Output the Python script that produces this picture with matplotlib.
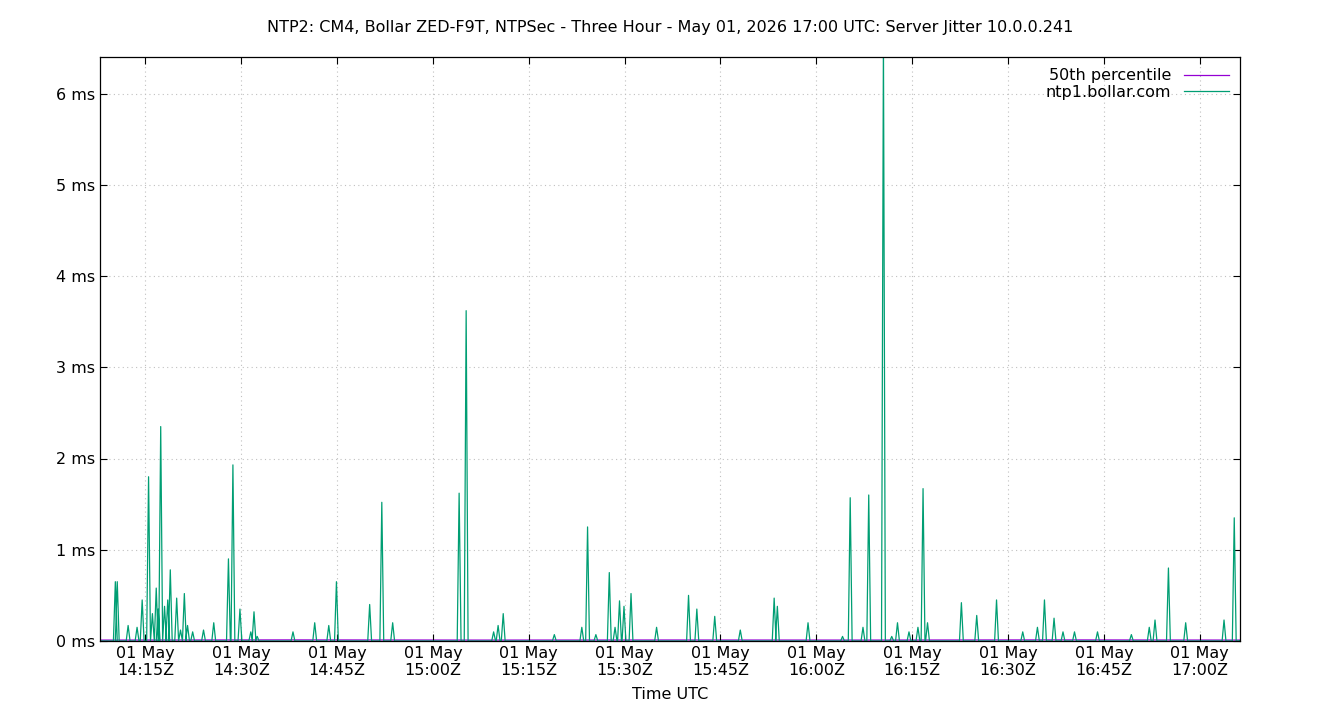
import matplotlib
matplotlib.use("Agg")
import matplotlib.pyplot as plt
import matplotlib.dates as mdates
import numpy as np
from datetime import datetime, timedelta

# spike positions in minutes after 14:15 UTC and jitter values in ms
spike_min = [-4.7, -4.4, -2.7, -1.3, -0.5, 0.5, 1.1, 1.7, 2.0, 2.4, 3.0, 3.5, 3.9, 4.9, 5.5,
             6.1, 6.6, 7.4, 9.1, 10.7, 13.0, 13.7, 14.8, 16.5, 17.0, 17.5, 23.1, 26.5, 28.7,
             29.9, 35.1, 37.0, 38.7, 49.1, 50.2, 54.5, 55.2, 56.0, 64.0, 68.3, 69.2, 70.5,
             72.6, 73.5, 74.2, 74.9, 76.0, 80.0, 85.0, 86.3, 89.1, 93.1, 98.4, 98.9, 103.7,
             109.1, 110.3, 112.3, 113.2, 115.5, 116.8, 117.7, 119.5, 120.9, 121.7, 122.4,
             127.7, 130.1, 133.2, 137.3, 139.6, 140.7, 142.2, 143.6, 145.4, 149.0, 154.3,
             157.1, 158.0, 160.1, 162.8, 168.8, 170.4, 172.3]
spike_ms = [0.65, 0.65, 0.17, 0.15, 0.45, 1.8, 0.3, 0.58, 0.35, 2.35, 0.38, 0.45, 0.78, 0.47, 0.12,
            0.52, 0.17, 0.1, 0.12, 0.2, 0.9, 1.93, 0.35, 0.1, 0.32, 0.05, 0.1, 0.2, 0.17,
            0.65, 0.4, 1.52, 0.2, 1.62, 3.62, 0.1, 0.17, 0.3, 0.07, 0.15, 1.25, 0.07,
            0.75, 0.15, 0.44, 0.38, 0.52, 0.15, 0.5, 0.35, 0.27, 0.12, 0.47, 0.38, 0.2,
            0.05, 1.57, 0.15, 1.6, 6.6, 0.05, 0.2, 0.1, 0.15, 1.67, 0.2,
            0.42, 0.28, 0.45, 0.1, 0.15, 0.45, 0.25, 0.1, 0.1, 0.1, 0.07,
            0.15, 0.23, 0.8, 0.2, 0.23, 1.35, 0.18]
median_ms = [0.01, 0.012, 0.01, 0.011, 0.01, 0.012, 0.01]
tick_labels = ["14:15", "14:30", "14:45", "15:00", "15:15", "15:30", "15:45",
               "16:00", "16:15", "16:30", "16:45", "17:00"]

base = datetime(2026, 5, 1, 14, 15)
t0 = base - timedelta(minutes=7.1)
t1 = base + timedelta(minutes=171.3)

# build series: each spike returns to ~0 between samples
ts, vs = [t0], [0.0]
for m, v in zip(spike_min, spike_ms):
    ts += [base + timedelta(minutes=m - 0.3), base + timedelta(minutes=m), base + timedelta(minutes=m + 0.3)]
    vs += [0.0, v, 0.0]
ts.append(t1); vs.append(0.0)

fig = plt.figure(figsize=(13.4, 7.2), dpi=100)
ax = fig.add_axes([100/1340, 79/720, 1140/1340, 584/720])
ax.plot(ts, vs, color="#009e73", lw=0.9, label="ntp1.bollar.com")
mt = [t0 + (t1 - t0) * i / (len(median_ms) - 1) for i in range(len(median_ms))]
ax.plot(mt, median_ms, color="#9400d3", lw=0.9, label="50th percentile", zorder=1)

ax.set_xlim(t0, t1)
ax.set_ylim(0, 6.4)
ax.set_yticks(range(7))
ax.set_yticklabels([f"{i} ms" for i in range(7)])
xt = [base + timedelta(minutes=15*i) for i in range(len(tick_labels))]
ax.set_xticks(xt)
ax.set_xticklabels([f"01 May\n{l}Z" for l in tick_labels])
ax.tick_params(direction="in", top=True, right=True, labelsize=11.5, length=5)
ax.grid(True, color="#c0c0c0", linestyle=(0, (1, 3)), lw=0.8)
for s in ax.spines.values():
    s.set_linewidth(0.9)
ax.set_xlabel("Time UTC", fontsize=11.5, labelpad=6)
ax.set_title("NTP2: CM4, Bollar ZED-F9T, NTPSec - Three Hour - May 01, 2026 17:00 UTC: Server Jitter 10.0.0.241",
             fontsize=11.5, pad=18)
h, l = ax.get_legend_handles_labels()
ax.legend(h[::-1], l[::-1], loc="upper right", frameon=False, markerfirst=False,
          fontsize=11.5, handlelength=2.8, borderaxespad=0.3, labelspacing=0.1)
fig.savefig("out.png", dpi=100)
